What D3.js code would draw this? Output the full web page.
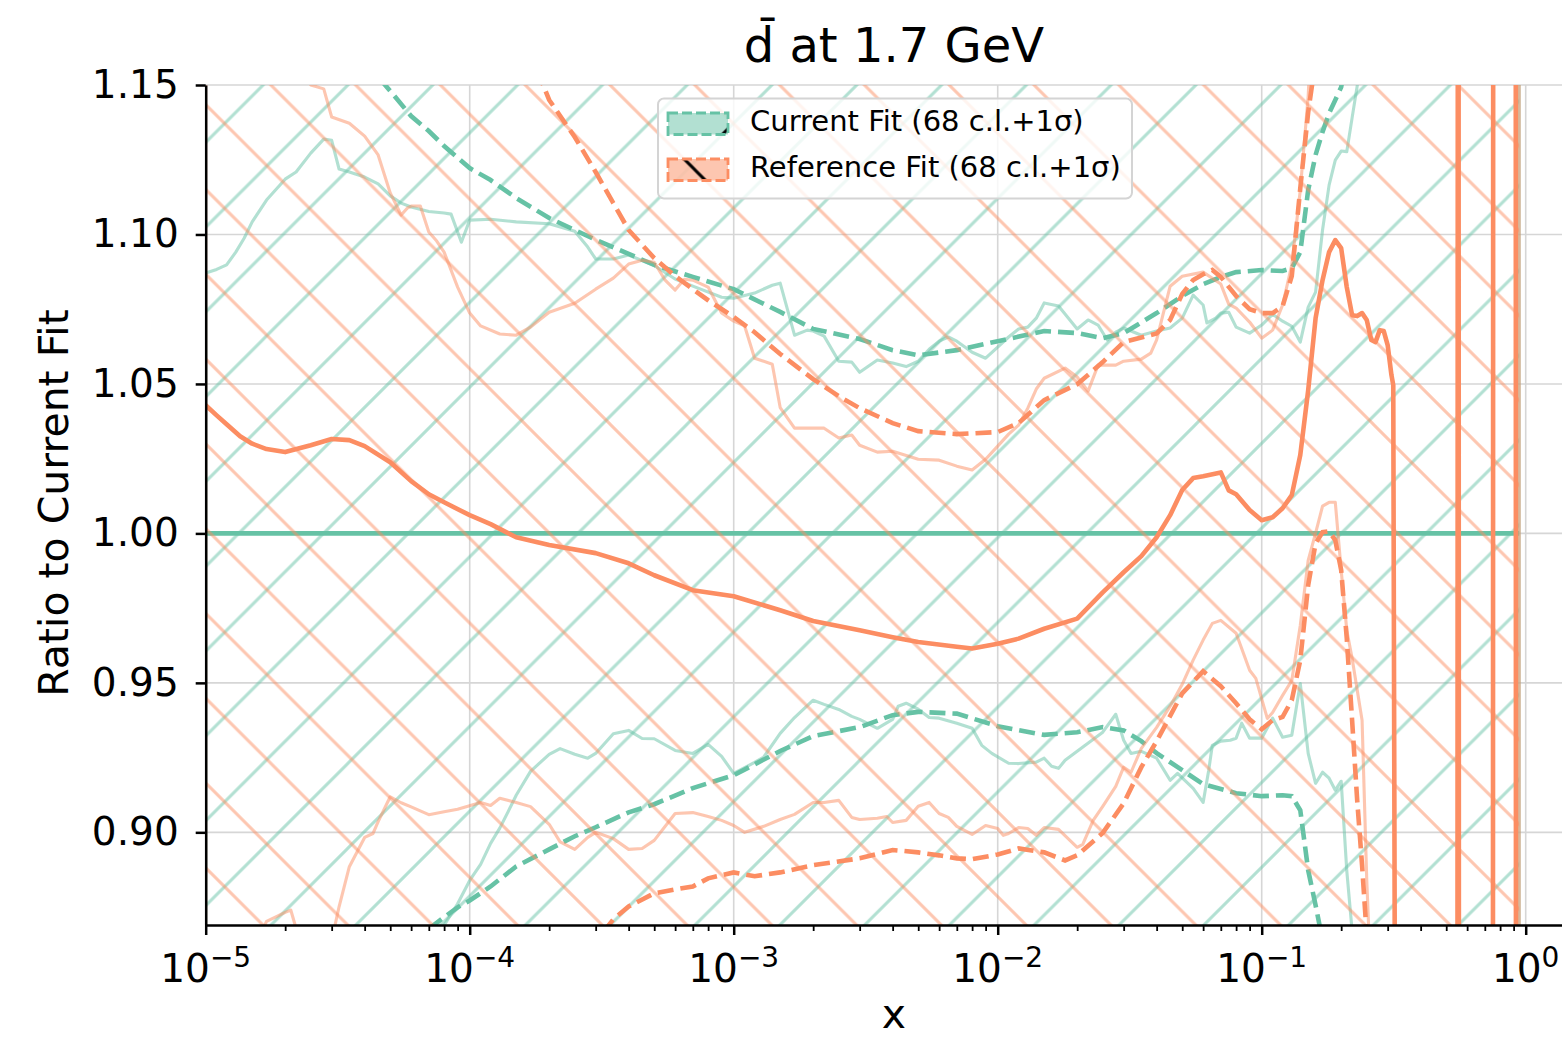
<!DOCTYPE html>
<html>
<head>
<meta charset="utf-8">
<script src="https://cdn.jsdelivr.net/npm/d3@7"></script>
<style>
  body { margin: 0; background: #ffffff; }
  text { font-family: "DejaVu Sans", sans-serif; }
</style>
</head>
<body>
<svg id="chart" width="1562" height="1039"></svg>
<script>
// ---- ratio of d-bar PDFs at Q = 1.7 GeV, normalised to the current fit ----

const xTickExponents = [-5, -4, -3, -2, -1, 0];
const yTickValues = [0.90, 0.95, 1.00, 1.05, 1.10, 1.15];

const seriesLabels = ["Current Fit (68 c.l.+1σ)", "Reference Fit (68 c.l.+1σ)"];

// current fit: central value, 68% c.l. band edges, 1-sigma edges
const currentCentral = [[1e-5, 1.0], [0.945, 1.0]];

const currentUpper68 = [
  [1e-5,1.0871],[1.1e-5,1.0883],[1.2e-5,1.0898],[1.3e-5,1.0941],[1.4e-5,1.0988],[1.5e-5,1.1042],
  [1.7e-5,1.1115],[2e-5,1.1185],[2.2e-5,1.1209],[2.5e-5,1.1272],[2.8e-5,1.1319],[3e-5,1.1315],
  [3.2e-5,1.1219],[3.5e-5,1.1209],[4e-5,1.1192],[4.5e-5,1.1169],[5e-5,1.1129],[5.5e-5,1.1105],
  [6e-5,1.1092],[7e-5,1.1077],[8e-5,1.1072],[8.5e-5,1.1068],[9e-5,1.1008],[9.3e-5,1.0974],
  [1e-4,1.1048],[1.2e-4,1.1051],[1.5e-4,1.1042],[2e-4,1.1036],[2.5e-4,1.1011],[2.8e-4,1.0958],
  [3e-4,1.0918],[3.5e-4,1.0918],[4e-4,1.0931],[5e-4,1.0896],[6e-4,1.0851],[7e-4,1.0827],
  [9e-4,1.0790],[1e-3,1.0787],[1.2e-3,1.0804],[1.4e-3,1.0830],[1.5e-3,1.0837],[1.7e-3,1.0663],
  [1.9e-3,1.0680],[2e-3,1.0677],[2.2e-3,1.0660],[2.5e-3,1.0576],[2.8e-3,1.0573],[3e-3,1.0539],
  [3.5e-3,1.0580],[4e-3,1.0570],[4.5e-3,1.0558],[5e-3,1.0576],[5.5e-3,1.0616],[6e-3,1.0643],
  [6.5e-3,1.0657],[7e-3,1.0643],[8e-3,1.0606],[9e-3,1.0586],[1e-2,1.0623],[1.1e-2,1.0657],
  [1.2e-2,1.0684],[1.3e-2,1.0690],[1.4e-2,1.0720],[1.5e-2,1.0771],[1.7e-2,1.0761],[2e-2,1.0684],
  [2.2e-2,1.0714],[2.4e-2,1.0697],[2.6e-2,1.0647],[2.8e-2,1.0673],[3e-2,1.0687],[3.5e-2,1.0663],
  [4e-2,1.0677],[4.5e-2,1.0687],[5e-2,1.0720],[5.5e-2,1.0797],[6e-2,1.0764],[6.2e-2,1.0704],
  [6.7e-2,1.0720],[7e-2,1.0737],[7.5e-2,1.0740],[8e-2,1.0690],[9e-2,1.0670],[0.1,1.0697],
  [0.11,1.0733],[0.12,1.0710],[0.13,1.0693],[0.14,1.0640],[0.15,1.0757],[0.16,1.0807],
  [0.17,1.1015],[0.18,1.1165],[0.19,1.1249],[0.2,1.1279],[0.21,1.1277],[0.22,1.1390],
  [0.23,1.1497],[0.24,1.158],[0.3,1.25],[0.5,1.6],[0.945,2.0]
];

const currentLower68 = [
  [1e-5,0.84],[5e-5,0.845],[7e-5,0.855],[8e-5,0.8689],[9e-5,0.8761],[1e-4,0.8839],[1.1e-4,0.8893],
  [1.2e-4,0.8963],[1.3e-4,0.9014],[1.4e-4,0.9070],[1.5e-4,0.9124],[1.7e-4,0.9204],[2e-4,0.9261],
  [2.2e-4,0.9280],[2.5e-4,0.9261],[2.8e-4,0.9248],[3e-4,0.9264],[3.5e-4,0.9330],[4e-4,0.9341],
  [4.5e-4,0.9314],[5e-4,0.9313],[6e-4,0.9274],[7e-4,0.9264],[8e-4,0.9294],[9e-4,0.9254],
  [1e-3,0.9197],[1.2e-3,0.9234],[1.3e-3,0.9252],[1.5e-3,0.9331],[1.7e-3,0.9384],[2e-3,0.9442],
  [2.2e-3,0.9428],[2.5e-3,0.9411],[2.8e-3,0.9388],[3e-3,0.9378],[3.5e-3,0.9348],[4e-3,0.9378],
  [4.2e-3,0.9422],[4.5e-3,0.9432],[5e-3,0.9412],[5.5e-3,0.9384],[6e-3,0.9382],[7e-3,0.9365],
  [8e-3,0.9348],[8.7e-3,0.9291],[9.5e-3,0.9264],[1.1e-2,0.9231],[1.2e-2,0.9230],[1.4e-2,0.9235],
  [1.5e-2,0.9248],[1.6e-2,0.9221],[1.7e-2,0.9214],[1.8e-2,0.9241],[2e-2,0.9271],[2.5e-2,0.9335],
  [2.8e-2,0.9395],[3e-2,0.9308],[3.2e-2,0.9264],[3.5e-2,0.9271],[4e-2,0.9248],[4.5e-2,0.9174],
  [4.8e-2,0.9197],[5.5e-2,0.9147],[6e-2,0.9100],[6.3e-2,0.9208],[6.5e-2,0.9291],[7e-2,0.9305],
  [7.6e-2,0.9308],[8e-2,0.9315],[8.4e-2,0.9365],[9e-2,0.9315],[0.1,0.9315],[0.11,0.9382],
  [0.12,0.9318],[0.13,0.9325],[0.14,0.9498],[0.15,0.9264],[0.16,0.9164],[0.17,0.9201],
  [0.18,0.9181],[0.19,0.9141],[0.2,0.9171],[0.21,0.8872],[0.22,0.8671],[0.23,0.80],
  [0.4,0.5],[0.945,0.2]
];

const currentUpper1s = [
  [4e-5,1.158],[5e-5,1.148],[6e-5,1.1396],[7e-5,1.1346],[8e-5,1.1296],[1e-4,1.1222],[1.2e-4,1.1182],
  [1.5e-4,1.1122],[2e-4,1.1055],[2.5e-4,1.1015],[3e-4,1.0982],[4e-4,1.0935],[5e-4,1.0898],
  [7e-4,1.0858],[1e-3,1.0817],[1.5e-3,1.0741],[2e-3,1.0684],[3e-3,1.0650],[4e-3,1.0613],
  [5e-3,1.0596],[7e-3,1.0613],[1e-2,1.0643],[1.5e-2,1.0677],[2e-2,1.0670],[2.5e-2,1.0653],
  [3e-2,1.0670],[4e-2,1.0737],[5e-2,1.0794],[6e-2,1.0834],[7e-2,1.0858],[8e-2,1.0874],
  [0.1,1.0881],[0.12,1.0878],[0.13,1.0887],[0.14,1.0941],[0.15,1.1149],[0.16,1.1266],
  [0.17,1.1343],[0.18,1.1406],[0.19,1.1450],[0.2,1.1493],[0.22,1.17]
];

const currentLower1s = [
  [7e-5,0.8677],[8e-5,0.8716],[9e-5,0.8749],[1e-4,0.8772],[1.2e-4,0.8819],[1.5e-4,0.8886],
  [2e-4,0.8943],[2.5e-4,0.8987],[3e-4,0.9017],[4e-4,0.9067],[5e-4,0.9094],[7e-4,0.9148],
  [1e-3,0.9191],[1.5e-3,0.9272],[2e-3,0.9322],[3e-3,0.9352],[4e-3,0.9392],[5e-3,0.9403],
  [7e-3,0.9397],[1e-2,0.9355],[1.5e-2,0.9326],[2e-2,0.9335],[2.5e-2,0.9352],[3e-2,0.9341],
  [3.5e-2,0.9305],[4e-2,0.9265],[5e-2,0.9208],[6e-2,0.9161],[8e-2,0.9131],[0.1,0.9121],
  [0.12,0.9124],[0.13,0.9121],[0.14,0.9074],[0.15,0.8873],[0.16,0.8756],[0.17,0.8639]
];

// reference fit: central value, 68% c.l. band edges, 1-sigma edges
const referenceCentral = [
  [1e-5,1.0429],[1.1e-5,1.0395],[1.2e-5,1.0365],[1.35e-5,1.0325],[1.5e-5,1.0300],[1.7e-5,1.0282],
  [2e-5,1.0272],[2.5e-5,1.0295],[3e-5,1.0316],[3.5e-5,1.0312],[4e-5,1.0292],[5e-5,1.0238],
  [6e-5,1.0175],[7e-5,1.0131],[8e-5,1.0104],[1e-4,1.0061],
  [1.2e-4,1.0031],[1.5e-4,0.9987],[2e-4,0.9961],[3e-4,0.9934],[4e-4,0.9900],[5e-4,0.9860],
  [7e-4,0.9810],[1e-3,0.9790],[1.5e-3,0.9743],[2e-3,0.9707],[3e-3,0.9676],[4e-3,0.9653],
  [5e-3,0.9637],[7e-3,0.9621],[8e-3,0.9615],[1e-2,0.9631],[1.2e-2,0.9648],[1.5e-2,0.9681],
  [2e-2,0.9715],[2.5e-2,0.9803],[3e-2,0.9870],[3.5e-2,0.9924],[4e-2,0.9987],[4.5e-2,1.0061],
  [5e-2,1.0145],[5.5e-2,1.0185],[6e-2,1.0191],[7e-2,1.0204],[7.5e-2,1.0144],[8e-2,1.0131],
  [9e-2,1.0078],[0.1,1.0044],[0.11,1.0054],[0.12,1.0084],[0.13,1.0128],[0.14,1.0262],
  [0.15,1.0479],[0.16,1.0720],[0.17,1.0847],[0.18,1.0941],[0.19,1.0981],[0.2,1.0954],
  [0.21,1.0824],[0.22,1.0730],[0.23,1.0727],[0.24,1.0737],[0.25,1.0714],[0.26,1.0647],
  [0.27,1.0640],[0.28,1.0680],[0.29,1.0677],[0.3,1.0630],[0.31,1.0530],[0.315,1.0496],
  [0.325,0.6],[0.55,0.5],[0.555,1.6],[0.56,0.5],[0.75,0.5],[0.755,1.6],[0.915,1.6],
  [0.92,0.5],[0.945,0.5]
];

const referenceUpper68 = [
  [1e-5,1.2],[2e-5,1.17],[2.5e-5,1.150],[2.8e-5,1.1487],[3e-5,1.1393],[3.5e-5,1.1372],
  [4e-5,1.1329],[4.5e-5,1.1266],[5e-5,1.1139],[5.5e-5,1.1065],[5.8e-5,1.1088],[6e-5,1.1095],
  [6.5e-5,1.1095],[7e-5,1.1008],[7.5e-5,1.0978],[8e-5,1.0941],[9e-5,1.0824],[1e-4,1.0737],
  [1.1e-4,1.0694],[1.3e-4,1.0667],[1.5e-4,1.0663],[1.7e-4,1.0690],[2e-4,1.0740],[2.5e-4,1.0770],
  [3e-4,1.0817],[3.5e-4,1.0854],[4e-4,1.0901],[4.5e-4,1.0914],[5e-4,1.0907],[5.5e-4,1.0847],
  [6e-4,1.0814],[6.5e-4,1.0850],[7e-4,1.0847],[8e-4,1.0824],[9e-4,1.0737],[1e-3,1.0710],
  [1.1e-3,1.0694],[1.2e-3,1.0586],[1.4e-3,1.0566],[1.5e-3,1.0421],[1.7e-3,1.0352],[2e-3,1.0352],
  [2.2e-3,1.0352],[2.5e-3,1.0319],[2.8e-3,1.0329],[3e-3,1.0295],[3.5e-3,1.0272],[4e-3,1.0275],
  [5e-3,1.0248],[6e-3,1.0245],[7e-3,1.0225],[8e-3,1.0212],[9e-3,1.0248],[1e-2,1.0292],
  [1.1e-2,1.0332],[1.2e-2,1.0362],[1.3e-2,1.0419],[1.4e-2,1.0483],[1.5e-2,1.0519],[1.8e-2,1.0553],
  [2e-2,1.0523],[2.2e-2,1.0476],[2.4e-2,1.0563],[2.8e-2,1.0563],[3e-2,1.0576],[3.5e-2,1.0583],
  [3.8e-2,1.0603],[4e-2,1.0647],[4.5e-2,1.0827],[5e-2,1.0860],[6e-2,1.0874],[7e-2,1.0834],
  [7.5e-2,1.0767],[8e-2,1.0754],[9e-2,1.0707],[0.1,1.0653],[0.11,1.0680],[0.12,1.0764],
  [0.13,1.0898],[0.14,1.1148],[0.15,1.1463],[0.16,1.2],[0.5,1.6],[0.945,2.0]
];

const referenceLower68 = [
  [1e-5,0.84],[1.5e-5,0.86],[1.7e-5,0.8702],[2e-5,0.8732],[2.1e-5,0.8740],[2.3e-5,0.862],
  [3e-5,0.8638],[3.2e-5,0.8751],[3.5e-5,0.8885],[4e-5,0.8983],[4.3e-5,0.8996],[4.5e-5,0.9036],
  [5e-5,0.9119],[5.5e-5,0.9099],[6e-5,0.9085],[7e-5,0.9059],[8e-5,0.9069],[9e-5,0.9077],
  [1.1e-4,0.9100],[1.2e-4,0.9090],[1.3e-4,0.9114],[1.5e-4,0.9100],[1.7e-4,0.9086],[2e-4,0.9027],
  [2.2e-4,0.8968],[2.5e-4,0.8943],[2.8e-4,0.8983],[3e-4,0.9000],[3.5e-4,0.8979],[4e-4,0.8943],
  [4.5e-4,0.8946],[5e-4,0.8973],[6e-4,0.9063],[7e-4,0.9066],[8e-4,0.9053],[9e-4,0.9040],
  [1e-3,0.9023],[1.1e-3,0.9000],[1.3e-3,0.9020],[1.5e-3,0.9043],[1.7e-3,0.9060],[2e-3,0.9100],
  [2.2e-3,0.9100],[2.5e-3,0.9107],[2.8e-3,0.9050],[3e-3,0.9043],[3.5e-3,0.9047],[3.8e-3,0.9053],
  [4e-3,0.9033],[4.5e-3,0.9040],[5e-3,0.9087],[5.5e-3,0.9100],[6e-3,0.9063],[6.5e-3,0.9050],
  [7e-3,0.9020],[8e-3,0.8993],[9e-3,0.9023],[1e-2,0.9013],[1.05e-2,0.8990],[1.1e-2,0.8996],
  [1.2e-2,0.9016],[1.3e-2,0.9013],[1.4e-2,0.8990],[1.5e-2,0.9016],[1.7e-2,0.9010],[2e-2,0.8950],
  [2.1e-2,0.8960],[2.3e-2,0.9040],[2.5e-2,0.9087],[2.8e-2,0.9154],[3e-2,0.9218],[3.2e-2,0.9201],
  [3.5e-2,0.9281],[4e-2,0.9351],[4.5e-2,0.9422],[5e-2,0.9495],[5.5e-2,0.9576],[6e-2,0.9643],
  [6.5e-2,0.9699],[7e-2,0.9709],[8e-2,0.9666],[9e-2,0.9542],[9.5e-2,0.9515],[0.105,0.9381],
  [0.11,0.9401],[0.12,0.9458],[0.13,0.9508],[0.14,0.9692],[0.15,0.9910],[0.16,1.0001],
  [0.17,1.0091],[0.18,1.0104],[0.19,1.0104],[0.2,0.9877],[0.21,0.9676],[0.22,0.9582],
  [0.24,0.9375],[0.25,0.8840],[0.26,0.847],[0.5,0.4],[0.945,0.0]
];

const referenceUpper1s = [
  [1.8e-4,1.155],[2e-4,1.145],[2.5e-4,1.1326],[3e-4,1.1209],[3.5e-4,1.1105],[4e-4,1.1015],
  [5e-4,1.0921],[6e-4,1.0861],[7e-4,1.0817],[8e-4,1.0780],[1e-3,1.0724],[1.2e-3,1.0673],
  [1.5e-3,1.0600],[2e-3,1.0516],[2.5e-3,1.0459],[3e-3,1.0419],[4e-3,1.0369],[5e-3,1.0342],
  [7e-3,1.0332],[1e-2,1.0339],[1.2e-2,1.0369],[1.5e-2,1.0446],[2e-2,1.0499],[2.5e-2,1.0573],
  [3e-2,1.0640],[4e-2,1.0669],[4.5e-2,1.0714],[5e-2,1.0801],[5.5e-2,1.0848],[6e-2,1.0867],
  [6.5e-2,1.0881],[7e-2,1.0858],[8e-2,1.0794],[9e-2,1.0750],[0.1,1.0737],[0.11,1.0737],
  [0.12,1.0760],[0.13,1.0861],[0.14,1.1155],[0.15,1.1409],[0.16,1.1583]
];

const referenceLower1s = [
  [3.2e-4,0.8665],[3.5e-4,0.8709],[4e-4,0.8752],[5e-4,0.8796],[6e-4,0.8809],[7e-4,0.8819],
  [8e-4,0.8846],[1e-3,0.8866],[1.2e-3,0.8853],[1.5e-3,0.8866],[2e-3,0.8890],[3e-3,0.8913],
  [4e-3,0.8941],[5e-3,0.8933],[6e-3,0.8923],[7e-3,0.8913],[8e-3,0.8910],[1e-2,0.8926],
  [1.2e-2,0.8946],[1.5e-2,0.8933],[1.8e-2,0.8906],[2e-2,0.8923],[2.5e-2,0.8998],[3e-2,0.9097],
  [3.5e-2,0.9218],[4e-2,0.9305],[5e-2,0.9465],[6e-2,0.9539],[7e-2,0.9489],[8e-2,0.9432],
  [9e-2,0.9378],[0.1,0.9345],[0.11,0.9375],[0.12,0.9386],[0.13,0.9442],[0.14,0.9576],
  [0.15,0.9827],[0.16,0.9967],[0.17,1.0004],[0.18,1.0007],[0.19,0.9977],[0.2,0.9877],
  [0.21,0.9649],[0.22,0.9375],[0.23,0.9107],[0.24,0.8890],[0.25,0.8655]
];

// ---- layout ----
const W = 1562, H = 1039;
const box = { left: 205.7, right: 1582, top: 85, bottom: 925 };
const colorCurrent = "#66c2a5", colorReference = "#fc8d62";
const hatchStep = 84.8;

const x = d3.scaleLog().domain([1e-5, 1.634]).range([box.left, box.right]);
const y = d3.scaleLinear().domain([0.869, 1.15]).range([box.bottom, box.top]);

const svg = d3.select("#chart");
svg.append("rect").attr("width", W).attr("height", H).attr("fill", "#ffffff");

const defs = svg.append("defs");
defs.append("clipPath").attr("id", "plotClip")
  .append("rect")
  .attr("x", box.left).attr("y", box.top)
  .attr("width", box.right - box.left).attr("height", box.bottom - box.top);

// hatch tiles anchored to page coordinates
function hatchPattern(id, dir, color, opacity, offset) {
  const P = hatchStep, w = 3;
  const p = defs.append("pattern").attr("id", id)
    .attr("patternUnits", "userSpaceOnUse")
    .attr("x", offset).attr("y", 0)
    .attr("width", P).attr("height", P);
  const d = dir === "ne"
    ? `M0,${P}L${P},0M${-w},${w}L${w},${-w}M${P - w},${P + w}L${P + w},${P - w}`
    : `M0,0L${P},${P}M${P - w},${-w}L${P + w},${w}M${-w},${P - w}L${w},${P + w}`;
  p.append("path").attr("d", d)
    .attr("stroke", color).attr("stroke-opacity", opacity)
    .attr("stroke-width", 3).attr("fill", "none");
}
hatchPattern("hatchCurrent", "ne", colorCurrent, 0.5, 8.9);
hatchPattern("hatchReference", "nw", colorReference, 0.5, 16.3);
hatchPattern("hatchCurrentLegend", "ne", "#000000", 1, 8.9);
hatchPattern("hatchReferenceLegend", "nw", "#000000", 1, 16.3);

// ---- grid ----
const grid = svg.append("g");
grid.selectAll("line.gx").data(xTickExponents).join("line")
  .attr("x1", d => x(Math.pow(10, d))).attr("x2", d => x(Math.pow(10, d)))
  .attr("y1", box.top).attr("y2", box.bottom)
  .attr("stroke", "#d6d6d6").attr("stroke-width", 1.6);
grid.selectAll("line.gy").data(yTickValues).join("line")
  .attr("x1", box.left).attr("x2", box.right)
  .attr("y1", d => y(d)).attr("y2", d => y(d))
  .attr("stroke", "#d6d6d6").attr("stroke-width", 1.6);

// ---- data layers ----
const line = d3.line().x(d => x(d[0])).y(d => y(d[1]));
const plot = svg.append("g").attr("clip-path", "url(#plotClip)");

function drawFit(upper68, lower68, upper1s, lower1s, central, color, hatchId) {
  const x0 = x(upper68[0][0]), x1 = x(upper68[upper68.length - 1][0]);
  plot.append("rect")
    .attr("x", x0).attr("y", box.top)
    .attr("width", x1 - x0).attr("height", box.bottom - box.top)
    .attr("fill", `url(#${hatchId})`);
  // 68% c.l. band outline (upper edge, then lower edge back)
  const outline = upper68.concat(lower68.slice().reverse());
  plot.append("path")
    .attr("d", line(outline) + "Z")
    .attr("fill", "none").attr("stroke", color).attr("stroke-opacity", 0.5)
    .attr("stroke-width", 3.1).attr("stroke-linejoin", "round");
  [upper1s, lower1s].forEach(s => {
    plot.append("path").attr("d", line(s))
      .attr("fill", "none").attr("stroke", color)
      .attr("stroke-width", 4.6).attr("stroke-dasharray", "16,7");
  });
  plot.append("path").attr("d", line(central))
    .attr("fill", "none").attr("stroke", color)
    .attr("stroke-width", 4.6).attr("stroke-linejoin", "round");
}

drawFit(currentUpper68, currentLower68, currentUpper1s, currentLower1s, currentCentral, colorCurrent, "hatchCurrent");
drawFit(referenceUpper68, referenceLower68, referenceUpper1s, referenceLower1s, referenceCentral, colorReference, "hatchReference");

// ---- axes ----
const majorX = xTickExponents.map(e => Math.pow(10, e));
const minorX = [];
xTickExponents.forEach(e => {
  for (let m = 2; m <= 9; m++) {
    const v = m * Math.pow(10, e);
    if (v <= x.domain()[1]) minorX.push(v);
  }
});

const xAxisMinor = svg.append("g").attr("transform", `translate(0,${box.bottom})`)
  .call(d3.axisBottom(x).tickValues(minorX).tickSize(6).tickSizeOuter(0).tickFormat(""));
xAxisMinor.select(".domain").remove();
xAxisMinor.selectAll(".tick line").attr("stroke", "#000").attr("stroke-width", 1.8);

const xAxis = svg.append("g").attr("transform", `translate(0,${box.bottom})`)
  .call(d3.axisBottom(x).tickValues(majorX).tickSize(10).tickSizeOuter(0).tickFormat(""));
xAxis.select(".domain").attr("stroke", "#000").attr("stroke-width", 2.5);
xAxis.selectAll(".tick line").attr("stroke", "#000").attr("stroke-width", 2.5);

const xLabels = svg.append("g");
xTickExponents.forEach(e => {
  const t = xLabels.append("text")
    .attr("x", x(Math.pow(10, e))).attr("y", 982)
    .attr("text-anchor", "middle").attr("font-size", 39).attr("fill", "#000");
  t.append("tspan").text("10");
  t.append("tspan").attr("font-size", 28).attr("dy", -15)
    .text(e < 0 ? "\u2212" + Math.abs(e) : String(e));
});

const yAxis = svg.append("g").attr("transform", `translate(${box.left},0)`)
  .call(d3.axisLeft(y).tickValues(yTickValues).tickSize(10).tickSizeOuter(0)
    .tickPadding(17).tickFormat(d3.format(".2f")));
yAxis.select(".domain").attr("stroke", "#000").attr("stroke-width", 2.5);
yAxis.selectAll(".tick line").attr("stroke", "#000").attr("stroke-width", 2.5);
yAxis.selectAll(".tick text").attr("font-size", 39).attr("fill", "#000")
  .attr("font-family", "DejaVu Sans");

// ---- labels ----
const midX = (box.left + box.right) / 2;
svg.append("text").attr("x", midX).attr("y", 62)
  .attr("text-anchor", "middle").attr("font-size", 48).attr("fill", "#000")
  .text("d\u0304 at 1.7 GeV");
svg.append("text").attr("x", midX).attr("y", 1028)
  .attr("text-anchor", "middle").attr("font-size", 41).attr("fill", "#000")
  .text("x");
svg.append("text")
  .attr("transform", `translate(68,${(box.top + box.bottom) / 2 - 2}) rotate(-90)`)
  .attr("text-anchor", "middle").attr("font-size", 41).attr("fill", "#000")
  .text("Ratio to Current Fit");

// ---- legend ----
const legend = svg.append("g");
legend.append("rect")
  .attr("x", 658).attr("y", 98.5).attr("width", 474).attr("height", 100).attr("rx", 6)
  .attr("fill", "#ffffff").attr("fill-opacity", 0.8)
  .attr("stroke", "#d4d4d4").attr("stroke-width", 2);

const legendItems = [
  { label: seriesLabels[0], color: colorCurrent, hatch: "hatchCurrentLegend" },
  { label: seriesLabels[1], color: colorReference, hatch: "hatchReferenceLegend" }
];
legendItems.forEach((it, i) => {
  const top = 113 + i * 46;
  legend.append("rect").attr("x", 668).attr("y", top).attr("width", 60).attr("height", 21.5)
    .attr("fill", it.color).attr("fill-opacity", 0.5);
  legend.append("rect").attr("x", 668).attr("y", top).attr("width", 60).attr("height", 21.5)
    .attr("fill", `url(#${it.hatch})`);
  legend.append("rect").attr("x", 668).attr("y", top).attr("width", 60).attr("height", 21.5)
    .attr("fill", "none").attr("stroke", it.color).attr("stroke-width", 2.8)
    .attr("stroke-dasharray", "10,4");
  legend.append("text").attr("x", 750).attr("y", top + 18)
    .attr("font-size", 29).attr("fill", "#000").text(it.label);
});
</script>
</body>
</html>
